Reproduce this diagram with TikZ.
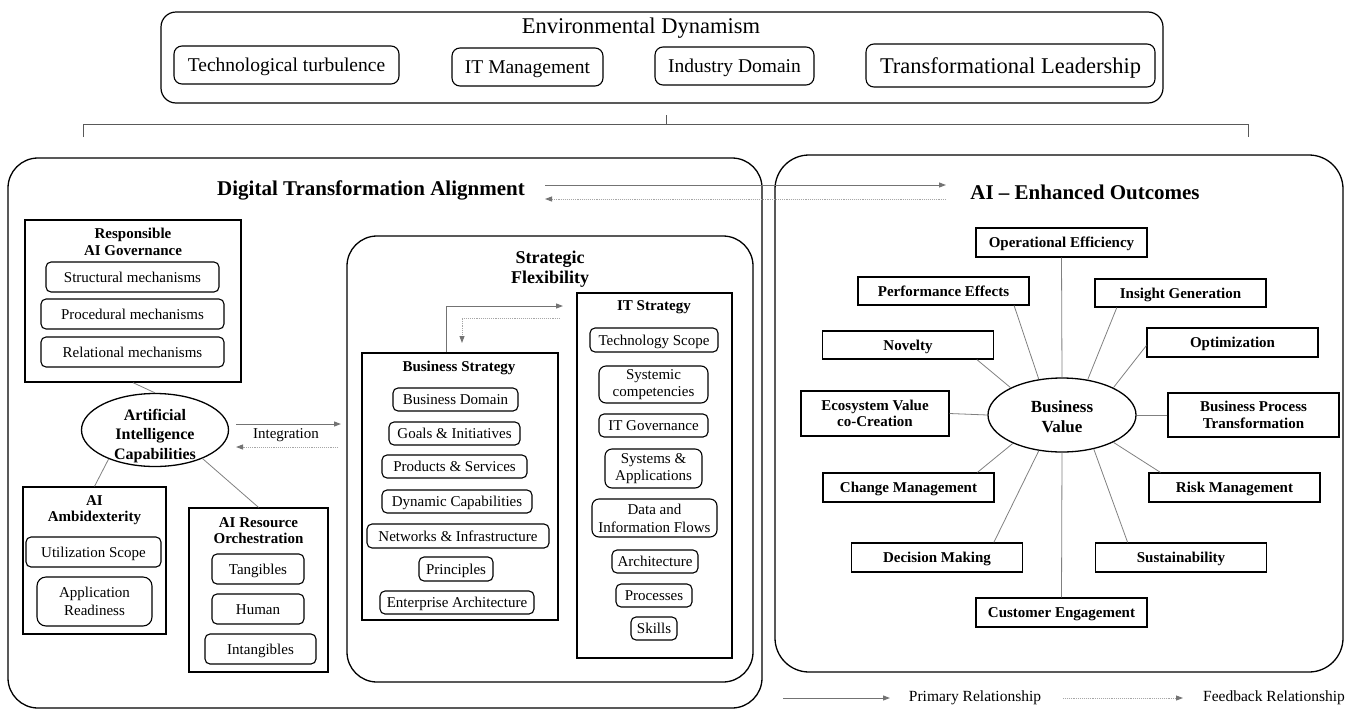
\documentclass[tikz,border=0pt]{standalone}
\usepackage{fontspec}
\setmainfont{Liberation Serif}
\usetikzlibrary{shapes.geometric,arrows.meta,calc}
\begin{document}
\begin{tikzpicture}[x=1pt,y=-1pt,
  every node/.style={inner sep=0pt, align=center},
  fs/.style={font=\fontsize{15}{17}\selectfont},
  fsb/.style={font=\fontsize{15}{16.5}\selectfont\bfseries},
  topf/.style={font=\fontsize{19.5}{22}\selectfont},
  rbase/.style={draw, line width=1.1pt, rounded corners=5pt, fs},
  rbox/.style={rbase, text height=10.5pt, text depth=0.5pt},
  tbox/.style={draw, line width=1.1pt, rounded corners=8pt, topf, text height=14pt, text depth=0.5pt},
  sbase/.style={draw, line width=1.2pt, fsb, minimum width=171, minimum height=29},
  sbox/.style={sbase, text height=10.5pt, text depth=0.5pt},
  frame/.style={draw, line width=1.3pt},
  bigframe/.style={draw, line width=1.3pt, rounded corners=30pt},
  ell/.style={draw, ellipse, line width=1.3pt},
  conn/.style={draw=black!50, line width=0.8pt},
  prim/.style={draw=black!55, line width=1pt, -{Triangle[length=7pt,width=5pt]}},
  fb/.style={draw=black!35, line width=0.9pt, densely dotted, -{Triangle[length=7pt,width=5pt,color=black!55]}},
]
\useasboundingbox (0,0) rectangle (1352,710);

% ---------------- top: environmental dynamism ----------------
\node[draw, line width=1.2pt, rounded corners=15pt, minimum width=1002, minimum height=91] (env) at (662,57.5) {};
\node[font=\fontsize{22.5}{25}\selectfont] (envt) at (641,28) {Environmental Dynamism};
\node[tbox, minimum width=225, minimum height=38] (tt) at (286.5,65) {Technological turbulence};
\node[tbox, minimum width=151, minimum height=38] (itm) at (527.5,67) {IT Management};
\node[tbox, minimum width=159, minimum height=38] (ind) at (734.5,66) {Industry Domain};
\node[tbox, minimum width=289, minimum height=43, font=\fontsize{22.5}{25}\selectfont, text height=16pt] (tl) at (1010.5,65.5) {Transformational Leadership};

% bracket
\coordinate (bl) at (83,137);
\coordinate (br) at (1248,137);
\coordinate (bc) at (666,124);
\coordinate (bct) at (666,115);
\draw[draw=black!65, line width=1pt] (bl) -- (bl |- bc) -- (br |- bc) -- (br);
\draw[draw=black!65, line width=1pt] (bc) -- (bct);

% ---------------- left: digital transformation alignment ----------------
\node[bigframe, minimum width=754, minimum height=550] (dta) at (385,433) {};
\node[font=\fontsize{21}{24}\selectfont\bfseries] (dtat) at (371,190) {Digital Transformation Alignment};

% responsible AI governance
\node[frame, minimum width=216, minimum height=162] (resp) at (133,301) {};
\node[fsb] (respt) at (133,242) {Responsible\\AI Governance};
\node[rbox, minimum width=173, minimum height=30] (sm) at (132.5,277) {Structural mechanisms};
\node[rbox, minimum width=183, minimum height=30] (pm) at (132.5,314) {Procedural mechanisms};
\node[rbox, minimum width=183, minimum height=30] (rlm) at (132.5,352) {Relational mechanisms};

% AI capabilities ellipse
\node[ell, minimum width=147, minimum height=73] (aic) at (155,430) {};
\node[font=\fontsize{16}{19.5}\selectfont\bfseries] (aict) at (155,436) {Artificial\\Intelligence\\Capabilities};

% AI ambidexterity
\node[frame, minimum width=143, minimum height=147] (amb) at (94.5,560.5) {};
\node[font=\fontsize{15}{16}\selectfont\bfseries] (ambt) at (94.5,510) {AI\\Ambidexterity};
\node[rbox, minimum width=135, minimum height=30] (us) at (93.5,552) {Utilization Scope};
\node[rbase, rounded corners=9pt, minimum width=115, minimum height=49, font=\fontsize{15}{18}\selectfont] (ar) at (94.5,601.5) {Application\\Readiness};

% AI resource orchestration
\node[frame, minimum width=139, minimum height=164] (res) at (258.5,590) {};
\node[font=\fontsize{15}{16}\selectfont\bfseries] (rest) at (258.5,531) {AI Resource\\Orchestration};
\node[rbox, minimum width=92, minimum height=30] (tan) at (258,569) {Tangibles};
\node[rbox, minimum width=92, minimum height=30] (hum) at (258,609) {Human};
\node[rbox, minimum width=111, minimum height=30] (intg) at (260.5,649) {Intangibles};

\draw[conn] (resp.south) -- (aic.north);
\draw[conn] (aic.212) -- (amb.north);
\draw[conn] (aic.329) -- (res.north);

% integration arrows
\coordinate (ia1) at (236,424);
\coordinate (ia2) at (341,424);
\coordinate (ib1) at (338,447);
\coordinate (ib2) at (236,447);
\draw[prim] (ia1) -- (ia2);
\draw[fb] (ib1) -- (ib2);
\node[fs] (integ) at (286,435.5) {Integration};

% strategic flexibility
\node[bigframe, minimum width=406, minimum height=446] (sf) at (550,459) {};
\node[font=\fontsize{18}{20}\selectfont\bfseries] (sft) at (550,269) {Strategic\\Flexibility};

% business strategy
\node[frame, minimum width=196, minimum height=267] (bs) at (460,486.5) {};
\node[fsb] (bst) at (459,368) {Business Strategy};
\node[rbox, minimum width=125, minimum height=23] (bd) at (455.5,399.5) {Business Domain};
\node[rbox, minimum width=131, minimum height=23] (gi) at (454.5,433.5) {Goals \& Initiatives};
\node[rbox, minimum width=145, minimum height=23] (ps) at (454.5,466.5) {Products \& Services};
\node[rbox, minimum width=150, minimum height=23] (dc) at (457,501.5) {Dynamic Capabilities};
\node[rbox, minimum width=182, minimum height=24] (ni) at (458,536) {Networks \& Infrastructure};
\node[rbox, minimum width=74, minimum height=24] (pr) at (456,569) {Principles};
\node[rbox, minimum width=154, minimum height=23] (ea) at (457,602.5) {Enterprise Architecture};

% IT strategy
\node[frame, minimum width=155, minimum height=365] (its) at (654.5,475.5) {};
\node[fsb] (itst) at (654,307) {IT Strategy};
\node[rbox, minimum width=128, minimum height=24] (ts) at (654,340) {Technology Scope};
\node[rbase, rounded corners=7pt, minimum width=109, minimum height=37] (sc) at (653.5,384.5) {Systemic\\competencies};
\node[rbox, minimum width=109, minimum height=23] (itg) at (653.5,425.5) {IT Governance};
\node[rbase, rounded corners=7pt, minimum width=97, minimum height=39] (sa) at (653.5,468.5) {Systems \&\\Applications};
\node[rbase, rounded corners=7pt, minimum width=125, minimum height=38, font=\fontsize{15}{18}\selectfont] (dif) at (654.5,518) {Data and\\Information Flows};
\node[rbox, minimum width=86, minimum height=23] (arc) at (655,561.5) {Architecture};
\node[rbox, minimum width=76, minimum height=23] (proc) at (654,595.5) {Processes};
\node[rbox, minimum width=46, minimum height=23] (sk) at (654,628.5) {Skills};

% business <-> IT arrows
\coordinate (bsa) at (446,352);
\coordinate (bsb) at (446,306);
\coordinate (bsc) at (563,306);
\coordinate (bfa) at (560,318);
\coordinate (bfb) at (462,318);
\coordinate (bfc) at (462,343);
\draw[prim] (bsa) -- (bsb) -- (bsc);
\draw[fb] (bfa) -- (bfb) -- (bfc);

% ---------------- right: AI enhanced outcomes ----------------
\node[bigframe, rounded corners=34pt, minimum width=568, minimum height=517] (aieo) at (1059,413.5) {};
\node[font=\fontsize{21}{24}\selectfont\bfseries] (aieot) at (1085,192) {AI -- Enhanced Outcomes};

% top arrows between panels
\coordinate (ta1) at (545,185);
\coordinate (ta2) at (946,185);
\coordinate (tb1) at (946,199);
\coordinate (tb2) at (545,199);
\draw[prim] (ta1) -- (ta2);
\draw[fb] (tb1) -- (tb2);

\node[ell, minimum width=148, minimum height=74] (bv) at (1062,415) {};
\node[font=\fontsize{17}{20}\selectfont\bfseries] (bvt) at (1062,417) {Business\\Value};

\node[sbox] (oe) at (1061.5,242.5) {Operational Efficiency};
\node[sbox, minimum height=28] (pe) at (943.5,291) {Performance Effects};
\node[sbox, minimum height=28] (ig) at (1180.5,293) {Insight Generation};
\node[sbox, minimum height=28] (nov) at (908,345) {Novelty};
\node[sbox] (opt) at (1232.5,342.5) {Optimization};
\node[sbase, minimum width=148, minimum height=45] (eco) at (875,413.5) {Ecosystem Value\\co-Creation};
\node[sbase, minimum height=44] (bpt) at (1253.5,415) {Business Process\\Transformation};
\node[sbox] (cm) at (908.5,487.5) {Change Management};
\node[sbox] (rm) at (1234.5,487.5) {Risk Management};
\node[sbox] (dm) at (937,557.5) {Decision Making};
\node[sbox] (sus) at (1181,557.5) {Sustainability};
\node[sbox] (ce) at (1061.5,612.5) {Customer Engagement};

\draw[conn] (oe.south) -- (bv.north);
\draw[conn] ($(pe.south west)!0.91!(pe.south east)$) -- (bv.123);
\draw[conn] ($(ig.south west)!0.13!(ig.south east)$) -- (bv.54);
\draw[conn] ($(nov.south west)!0.9!(nov.south east)$) -- (bv.152);
\draw[conn] ($(opt.north west)!0.6!(opt.south west)$) -- (bv.28);
\draw[conn] (eco.east) -- (bv.west);
\draw[conn] (bpt.west) -- (bv.east);
\draw[conn] ($(cm.north west)!0.9!(cm.north east)$) -- (bv.210);
\draw[conn] ($(rm.north west)!0.07!(rm.north east)$) -- (bv.332);
\draw[conn] ($(dm.north west)!0.83!(dm.north east)$) -- (bv.237);
\draw[conn] ($(sus.north west)!0.19!(sus.north east)$) -- (bv.313);
\draw[conn] (ce.north) -- (bv.south);

% legend
\coordinate (lp1) at (783,698);
\coordinate (lp2) at (890,698);
\coordinate (lf1) at (1063,698);
\coordinate (lf2) at (1183,698);
\draw[prim] (lp1) -- (lp2);
\node[font=\fontsize{15.5}{17}\selectfont] (lpt) at (975,698) {Primary Relationship};
\draw[fb] (lf1) -- (lf2);
\node[font=\fontsize{15.5}{17}\selectfont] (lft) at (1274,698) {Feedback Relationship};
\end{tikzpicture}
\end{document}
